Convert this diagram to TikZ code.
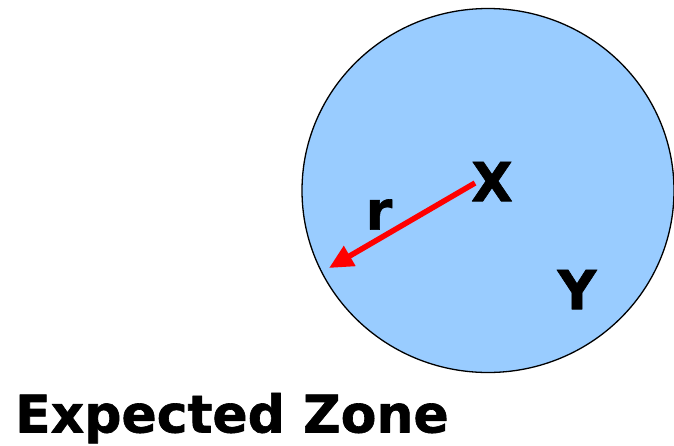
\documentclass[tikz,border=0pt]{standalone}
\usepackage{fontspec}
\setmainfont{DejaVu Sans}
\newfontfamily\labelfont{DejaVu Sans Bold}[FakeBold=1.2]
\usetikzlibrary{arrows.meta}
\definecolor{zoneblue}{RGB}{153,204,255}
\begin{document}
\begin{tikzpicture}[x=1pt, y=-1pt, font=\fontsize{54}{60}\labelfont, line join=round, >={Triangle[length=24pt,width=22pt]}]
	\useasboundingbox (0,0) rectangle (674,445);
	\path (488,190.5) coordinate (C) 
	(475,183) coordinate (S) 
	(329,268) coordinate (R);
	\begin{scope}
		\clip (0,0) rectangle (674,445);
		\draw[fill=zoneblue, line width=1.3pt] (C) ellipse [x radius=186, y radius=182];
	\end{scope}
	\draw[->, red, line width=5.5pt] (S) -- (R);
	\foreach \p/\x/\y in {X/492/181.5, r/379/214.5, Y/577/289.5}
	\node[inner sep=0] (\p) at (\x,\y) {\p};
	\node[inner sep=0, anchor=base west, font=\fontsize{52}{60}\labelfont] (zone) at (15,432.5) {Expected Zone};
\end{tikzpicture}
\end{document}
